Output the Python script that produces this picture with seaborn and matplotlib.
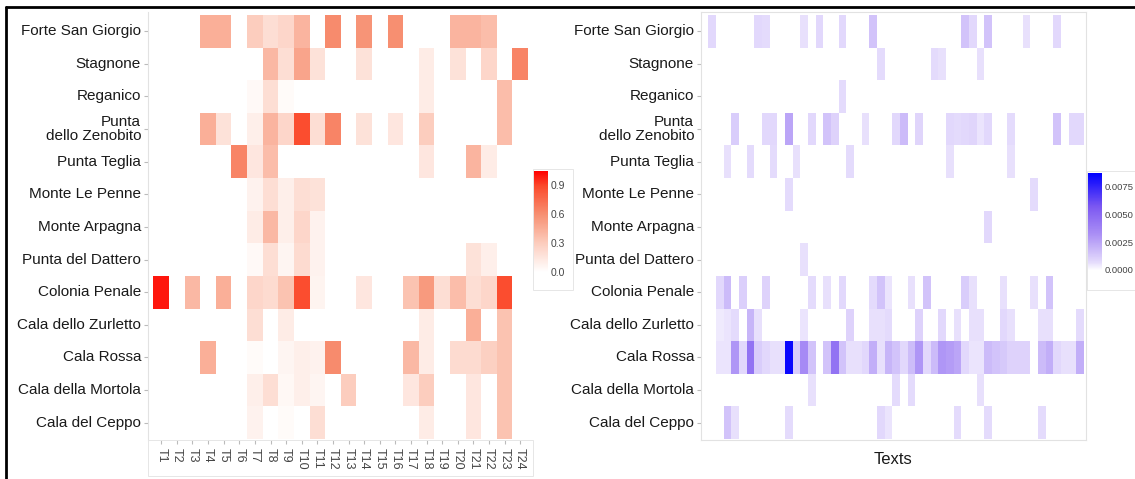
import numpy as np
import pandas as pd
import seaborn as sns
import matplotlib.pyplot as plt
from matplotlib.colors import LinearSegmentedColormap
from matplotlib.lines import Line2D
from matplotlib.patches import Rectangle

# ---------------------------------------------------------------
# Data
# ---------------------------------------------------------------
sites = ['Forte San Giorgio', 'Stagnone', 'Reganico', 'Punta\ndello Zenobito', 'Punta Teglia',
         'Monte Le Penne', 'Monte Arpagna', 'Punta del Dattero', 'Colonia Penale',
         'Cala dello Zurletto', 'Cala Rossa', 'Cala della Mortola', 'Cala del Ceppo']

topics = ['T1', 'T2', 'T3', 'T4', 'T5', 'T6', 'T7', 'T8', 'T9', 'T10', 'T11', 'T12',
          'T13', 'T14', 'T15', 'T16', 'T17', 'T18', 'T19', 'T20', 'T21', 'T22', 'T23', 'T24']

# share of each topic per site (left panel), one row per site
topic_share = [
    [0, 0, 0, .45, .45, 0, .30, .20, .25, .42, 0, .62, 0, .58, 0, .60, 0, 0, 0, .42, .42, .38, 0, 0],
    [0, 0, 0, 0, 0, 0, 0, .40, .20, .50, .18, 0, 0, .18, 0, 0, 0, .12, 0, .18, 0, .25, 0, .65],
    [0, 0, 0, 0, 0, 0, .04, .20, .03, 0, 0, 0, 0, 0, 0, 0, 0, .12, 0, 0, 0, 0, .38, 0],
    [0, 0, 0, .45, .18, 0, .10, .42, .25, .88, .20, .65, 0, .18, 0, .15, 0, .30, 0, 0, 0, 0, .38, 0],
    [0, 0, 0, 0, 0, .65, .15, .38, 0, 0, 0, 0, 0, 0, 0, 0, 0, .15, 0, 0, .42, .12, 0, 0],
    [0, 0, 0, 0, 0, 0, .08, .20, .10, .20, .18, 0, 0, 0, 0, 0, 0, 0, 0, 0, 0, 0, 0, 0],
    [0, 0, 0, 0, 0, 0, .12, .40, .10, .25, .08, 0, 0, 0, 0, 0, 0, 0, 0, 0, 0, 0, 0, 0],
    [0, 0, 0, 0, 0, 0, .04, .20, .06, .22, .08, 0, 0, 0, 0, 0, 0, 0, 0, 0, .18, .10, 0, 0],
    [1.0, 0, .40, 0, .45, 0, .25, .22, .35, .88, .07, 0, 0, .15, 0, 0, .35, .55, .20, .38, .20, .25, .88, 0],
    [0, 0, 0, 0, 0, 0, .20, 0, .12, 0, 0, 0, 0, 0, 0, 0, 0, .12, 0, 0, .45, 0, .35, 0],
    [0, 0, 0, .45, 0, 0, .03, 0, .06, .10, .08, .62, 0, 0, 0, 0, .40, .12, 0, .22, .22, .28, .35, 0],
    [0, 0, 0, 0, 0, 0, .10, .20, .05, .10, .06, 0, .30, 0, 0, 0, .15, .30, 0, 0, .15, 0, .35, 0],
    [0, 0, 0, 0, 0, 0, .08, 0, .03, 0, .20, 0, 0, 0, 0, 0, 0, .12, 0, 0, .15, 0, .35, 0],
]

# weight of each site in each text (right panel), in units of 1e-4
text_unit = 1e-4
text_weight = [
    [8, 0, 0, 0, 0, 0, 8, 7, 0, 0,  0, 0, 6, 0, 8, 0, 0, 8, 0, 0,  0, 15, 0, 0, 0, 0, 0, 0, 0, 0,  0, 0, 0, 15, 8, 0, 15, 0, 0, 0,  0, 6, 0, 0, 0, 8, 0, 0, 0],
    [0, 0, 0, 0, 0, 0, 0, 0, 0, 0,  0, 0, 0, 0, 0, 0, 0, 0, 0, 0,  0, 0, 7, 0, 0, 0, 0, 0, 0, 7,  6, 0, 0, 0, 0, 6, 0, 0, 0, 0,  0, 0, 0, 0, 0, 0, 0, 0, 0],
    [0, 0, 0, 0, 0, 0, 0, 0, 0, 0,  0, 0, 0, 0, 0, 0, 0, 7, 0, 0,  0, 0, 0, 0, 0, 0, 0, 0, 0, 0,  0, 0, 0, 0, 0, 0, 0, 0, 0, 0,  0, 0, 0, 0, 0, 0, 0, 0, 0],
    [0, 0, 0, 12, 0, 0, 0, 8, 8, 0,  25, 0, 0, 8, 0, 15, 10, 0, 0, 0,  6, 0, 0, 0, 8, 18, 0, 9, 0, 0,  0, 8, 7, 8, 9, 5, 8, 0, 0, 7,  0, 0, 0, 0, 0, 15, 0, 8, 8],
    [0, 0, 6, 0, 0, 7, 0, 0, 7, 0,  0, 6, 0, 0, 0, 0, 0, 0, 7, 0,  0, 0, 0, 0, 0, 0, 0, 0, 0, 0,  0, 6, 0, 0, 0, 0, 0, 0, 0, 6,  0, 0, 0, 0, 0, 0, 0, 0, 0],
    [0, 0, 0, 0, 0, 0, 0, 0, 0, 0,  7, 0, 0, 0, 0, 0, 0, 0, 0, 0,  0, 0, 0, 0, 0, 0, 0, 0, 0, 0,  0, 0, 0, 0, 0, 0, 0, 0, 0, 0,  0, 0, 7, 0, 0, 0, 0, 0, 0],
    [0, 0, 0, 0, 0, 0, 0, 0, 0, 0,  0, 0, 0, 0, 0, 0, 0, 0, 0, 0,  0, 0, 0, 0, 0, 0, 0, 0, 0, 0,  0, 0, 0, 0, 0, 0, 8, 0, 0, 0,  0, 0, 0, 0, 0, 0, 0, 0, 0],
    [0, 0, 0, 0, 0, 0, 0, 0, 0, 0,  0, 0, 6, 0, 0, 0, 0, 0, 0, 0,  0, 0, 0, 0, 0, 0, 0, 0, 0, 0,  0, 0, 0, 0, 0, 0, 0, 0, 0, 0,  0, 0, 0, 0, 0, 0, 0, 0, 0],
    [0, 8, 18, 0, 11, 0, 0, 10, 0, 0,  0, 0, 0, 7, 0, 6, 0, 8, 0, 0,  0, 7, 15, 5, 0, 0, 6, 0, 15, 0,  0, 0, 0, 12, 6, 0, 0, 0, 6, 0,  0, 0, 6, 0, 15, 0, 0, 0, 0],
    [0, 4, 5, 7, 0, 20, 6, 0, 0, 0,  0, 0, 5, 0, 0, 0, 0, 0, 10, 0,  0, 6, 6, 7, 0, 0, 0, 10, 0, 0,  8, 0, 6, 0, 6, 6, 0, 0, 8, 6,  0, 0, 0, 6, 6, 0, 0, 0, 7],
    [0, 5, 5, 30, 8, 45, 12, 8, 6, 6,  85, 12, 35, 15, 0, 15, 45, 15, 6, 6,  8, 22, 6, 20, 15, 8, 17, 30, 8, 18,  30, 28, 25, 8, 5, 5, 18, 15, 13, 10,  10, 10, 0, 18, 22, 8, 6, 6, 22],
    [0, 0, 0, 0, 0, 0, 0, 0, 0, 0,  0, 0, 0, 6, 0, 0, 0, 0, 0, 0,  0, 0, 0, 0, 7, 0, 7, 0, 0, 0,  0, 0, 0, 0, 0, 6, 0, 0, 0, 0,  0, 0, 0, 0, 0, 0, 0, 0, 0],
    [0, 0, 15, 6, 0, 0, 0, 0, 0, 0,  7, 0, 0, 0, 0, 0, 0, 0, 0, 0,  0, 0, 8, 5, 0, 0, 0, 0, 0, 0,  0, 0, 7, 0, 0, 0, 7, 0, 0, 0,  0, 0, 0, 7, 0, 0, 0, 0, 0],
]

topic_ticks = [0.0, 0.3, 0.6, 0.9]
text_ticks = [0.0, 0.0025, 0.005, 0.0075]

# ---------------------------------------------------------------
# Frames
# ---------------------------------------------------------------
topic_df = pd.DataFrame(topic_share, index=sites, columns=topics)
text_df = pd.DataFrame(np.array(text_weight) * text_unit, index=sites)

reds = LinearSegmentedColormap.from_list('topic_reds', [
    (0, '#ffffff'), (0.12, '#ffffff'), (0.37, '#fccdbe'), (0.62, '#f79072'),
    (0.87, '#fb4a2c'), (1, '#ff0000')])
purples = LinearSegmentedColormap.from_list('text_purples', [
    (0, '#ffffff'), (0.13, '#ffffff'), (0.2, '#e5dcfc'), (0.45, '#ab90f5'),
    (0.7, '#7c58f1'), (1, '#0000ff')])

# ---------------------------------------------------------------
# Figure
# ---------------------------------------------------------------
sns.set_theme()
sns.set_style("white")
plt.rcParams['font.family'] = ['Liberation Sans', 'DejaVu Sans']

W, H = 1135, 479
fig = plt.figure(figsize=(W / 100, H / 100), dpi=100)

def px_box(x0, y0, x1, y1):
    # pixel box (top-left origin) -> figure fraction rect
    return [x0 / W, 1 - y1 / H, (x1 - x0) / W, (y1 - y0) / H]

ax1 = fig.add_axes(px_box(148, 12, 533, 440))
cax1 = fig.add_axes(px_box(533, 171, 548, 286))
ax2 = fig.add_axes(px_box(701, 12, 1086, 440))
cax2 = fig.add_axes(px_box(1087, 173, 1102, 285))

sns.heatmap(topic_df, mask=topic_df == 0, cmap=reds, vmin=-0.14, vmax=1.05,
            ax=ax1, cbar_ax=cax1, cbar_kws={'ticks': topic_ticks})
sns.heatmap(text_df, mask=text_df == 0, cmap=purples, vmin=-0.00136, vmax=0.00876,
            ax=ax2, cbar_ax=cax2, xticklabels=False, cbar_kws={'ticks': text_ticks})

# Axis
ax1.set_xlim(-0.35, 24.32)
ax2.set_xlim(-0.95, 49.26)
for ax in (ax1, ax2):
    ax.set_ylim(13.03, -0.09)
    ax.set_ylabel('')
    ax.tick_params(axis='y', length=3, width=0.8, color='#bbbbbb', pad=2,
                   labelsize=11, labelcolor='#1a1a1a', left=True)
    for lab in ax.get_yticklabels():
        lab.set_rotation(0)
        lab.set_ha('right')
        lab.set_va('center')
        lab.set_linespacing(1.0)

ax1.set_xlabel('')
ax1.tick_params(axis='x', length=3, width=0.8, color='#bbbbbb', pad=3,
                labelsize=9, labelcolor='#444444', bottom=True, rotation=270)
ax2.set_xlabel('Texts', fontsize=12, color='#1a1a1a', labelpad=9)
ax2.tick_params(axis='x', bottom=False)

# light panel frames
for side in ['left', 'right', 'top', 'bottom']:
    ax1.spines[side].set_visible(side == 'left')
    ax2.spines[side].set_visible(True)
    ax1.spines[side].set_color('#e2e2e2')
    ax2.spines[side].set_color('#e2e2e2')
    ax1.spines[side].set_linewidth(0.8)
    ax2.spines[side].set_linewidth(0.8)

# colorbars
for cax, fmt, size in ((cax1, '{:.1f}', 7.5), (cax2, '{:.4f}', 6.8)):
    cax.tick_params(axis='y', length=3, width=0.8, color='white', direction='in',
                    labelsize=size, labelcolor='#444444', pad=2)
    cax.set_yticklabels([fmt.format(t) for t in cax.get_yticks()])
    for s in cax.spines.values():
        s.set_visible(False)

# light boxes around colorbars
fig.add_artist(Rectangle((533 / W, 1 - 290 / H), 40 / W, 121 / H, transform=fig.transFigure,
                         fill=False, lw=0.7, ec='#e6e6e6'))
fig.add_artist(Rectangle((1087 / W, 1 - 290 / H), 60 / W, 119 / H, transform=fig.transFigure,
                         fill=False, lw=0.7, ec='#e6e6e6'))
# box around the topic tick labels
fig.add_artist(Rectangle((148 / W, 1 - 476 / H), 385 / W, 36 / H, transform=fig.transFigure,
                         fill=False, lw=0.7, ec='#e6e6e6'))

# outer black frame (left and top)
fig.add_artist(Line2D([6 / W, 6 / W], [0, 1 - 7 / H], transform=fig.transFigure, color='black', lw=2))
fig.add_artist(Line2D([6 / W, 1], [1 - 7 / H, 1 - 7 / H], transform=fig.transFigure, color='black', lw=2))

fig.savefig('out.png', dpi=100)
